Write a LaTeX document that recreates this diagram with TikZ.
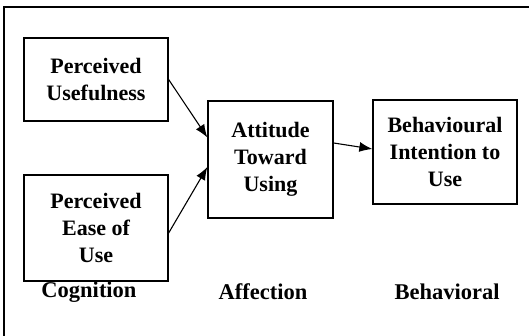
\documentclass[tikz,border=0pt]{standalone}
\usepackage{fontspec}
\setmainfont{Liberation Serif}
\usetikzlibrary{arrows.meta}
\tikzset{
	construct/.style={draw, line width=1.3pt, inner sep=0pt, align=center,
		font=\fontsize{22}{27}\selectfont\bfseries},
	layer/.style={font=\fontsize{22.5}{26}\selectfont\bfseries},
	link/.style={line width=1.1pt, -{Latex[length=13pt,width=10pt]}}
}

\begin{document}
\begin{tikzpicture}[x=1pt, y=-1pt]
			%%%%% FRAME %%%%%
			\useasboundingbox (0, 0) rectangle (529, 336);
			\draw[line width=1.3pt] (529, 7) -- (4, 7) -- (4, 336);
			
			%%%%% BOXES %%%%%
			\node[construct, minimum width=144pt, minimum height=83pt] (pu) at (96, 79.5) {Perceived\\Usefulness};
			\node[construct, minimum width=144pt, minimum height=106pt] (peou) at (96, 228) {Perceived\\Ease of\\Use};
			\node[construct, minimum width=125pt, minimum height=117pt] (atu) at (270.5, 159.5) {Attitude\\Toward\\Using};
			\node[construct, minimum width=144pt, minimum height=104pt] (bi) at (445, 152) {Behavioural\\Intention to\\Use};
			
			%%%%% ARROWS %%%%%
			\draw[link] (pu.east) -- ([yshift=22pt]atu.west);
			\draw[link] ([yshift=-5pt]peou.east) -- ([yshift=-7.5pt]atu.west);
			\draw[link] ([yshift=16.5pt]atu.east) -- ([yshift=3pt]bi.west);
			
			%%%%% LAYERS %%%%%
			\node[layer] (cog) at (89, 292) {Cognition};
			\node[layer] (aff) at (263, 292) {Affection};
			\node[layer] (beh) at (447, 292) {Behavioral};
		\end{tikzpicture}
\end{document}
